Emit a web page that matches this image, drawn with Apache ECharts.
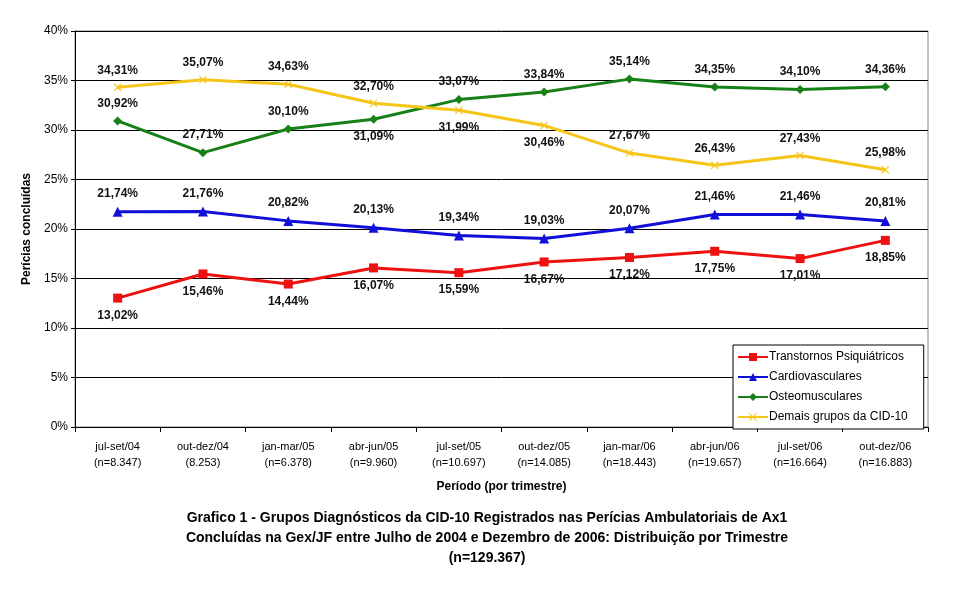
<!DOCTYPE html>
<html>
<head>
<meta charset="utf-8">
<script src="https://cdn.jsdelivr.net/npm/echarts@6/dist/echarts.min.js"></script>
<style>
  html, body { margin: 0; padding: 0; background: #fff; }
  #chart { width: 970px; height: 603px; }
</style>
</head>
<body>
<div id="chart"></div>
<script>
// categorias (trimestres)
var periodos = ['jul-set/04', 'out-dez/04', 'jan-mar/05', 'abr-jun/05', 'jul-set/05',
                'out-dez/05', 'jan-mar/06', 'abr-jun/06', 'jul-set/06', 'out-dez/06'];
var amostras = ['(n=8.347)', '(8.253)', '(n=6.378)', '(n=9.960)', '(n=10.697)',
                '(n=14.085)', '(n=18.443)', '(n=19.657)', '(n=16.664)', '(n=16.883)'];

// valores (%)
var psiquiatricos = [13.02, 15.46, 14.44, 16.07, 15.59, 16.67, 17.12, 17.75, 17.01, 18.85];
var cardiovasculares = [21.74, 21.76, 20.82, 20.13, 19.34, 19.03, 20.07, 21.46, 21.46, 20.81];
var osteomusculares = [30.92, 27.71, 30.10, 31.09, 33.07, 33.84, 35.14, 34.35, 34.10, 34.36];
var demais = [34.31, 35.07, 34.63, 32.70, 31.99, 30.46, 27.67, 26.43, 27.43, 25.98];

var yTicks = [0, 5, 10, 15, 20, 25, 30, 35, 40];

// lado do rotulo (1 = acima, 0 = abaixo)
var ladoOsteo = [1, 1, 1, 0, 1, 1, 1, 1, 1, 1];
var ladoDemais = [1, 1, 1, 1, 0, 0, 1, 1, 1, 1];

function fmt(v) {
    return v.toFixed(2).replace('.', ',') + '%';
}

function pontos(valores, lados) {
    var out = [];
    for (var i = 0; i < valores.length; i++) {
        var item = {value: valores[i]};
        if (lados) {
            item.label = {position: lados[i] ? 'top' : 'bottom'};
        }
        out.push(item);
    }
    return out;
}

var categorias = [];
for (var i = 0; i < periodos.length; i++) {
    categorias.push(periodos[i] + '\n' + amostras[i]);
}

var fonte = 'Liberation Sans, Arial, sans-serif';
var xMarker = 'path://M0,1L1,0L5,4L9,0L10,1L6,5L10,9L9,10L5,6L1,10L0,9L4,5Z';

function serie(nome, dados, cor, simbolo, tam, pos) {
    return {
        name: nome,
        type: 'line',
        data: dados,
        symbol: simbolo,
        symbolSize: tam,
        showAllSymbol: true,
        lineStyle: {color: cor, width: 3},
        itemStyle: {color: cor},
        label: {
            show: true,
            position: pos,
            distance: 7,
            formatter: function (p) { return fmt(p.value); },
            fontFamily: fonte,
            fontWeight: 'bold',
            fontSize: 12,
            color: '#111'
        },
        emphasis: {disabled: true},
        animation: false
    };
}

var myChart = echarts.init(document.getElementById('chart'));
var option = {
    backgroundColor: '#fff',
    textStyle: {fontFamily: fonte},
    title: [{
        text: 'Grafico 1 - Grupos Diagnósticos da CID-10 Registrados nas Perícias Ambulatoriais de Ax1\nConcluídas na Gex/JF entre Julho de 2004 e Dezembro de 2006: Distribuição por Trimestre\n(n=129.367)',
        left: 482,
        top: 503,
        textAlign: 'center',
        textStyle: {fontFamily: fonte, fontSize: 14, fontWeight: 'bold', color: '#000', lineHeight: 20}
    }],
    legend: {
        orient: 'vertical',
        left: 733,
        top: 345,
        padding: [6, 16, 6, 4],
        itemGap: 8,
        itemWidth: 30,
        itemHeight: 10,
        borderColor: '#000',
        borderWidth: 1,
        backgroundColor: '#fff',
        textStyle: {fontFamily: fonte, fontSize: 12, color: '#000', padding: [0, 0, 0, -4]},
        data: ['Transtornos Psiquiátricos', 'Cardiovasculares', 'Osteomusculares', 'Demais grupos da CID-10']
    },
    grid: {left: 75, right: 42, top: 31, bottom: 176, show: true, borderColor: '#888', borderWidth: 1},
    xAxis: {
        type: 'category',
        data: categorias,
        boundaryGap: true,
        name: 'Período (por trimestre)',
        nameLocation: 'middle',
        nameGap: 54,
        nameTextStyle: {fontFamily: fonte, fontSize: 12, fontWeight: 'bold', color: '#000'},
        axisLine: {lineStyle: {color: '#000', width: 1}},
        axisTick: {show: true, length: 5, lineStyle: {color: '#000'}},
        axisLabel: {fontFamily: fonte, fontSize: 11, color: '#000', lineHeight: 16, margin: 12, interval: 0},
        splitLine: {show: false}
    },
    yAxis: {
        type: 'value',
        min: yTicks[0],
        max: yTicks[yTicks.length - 1],
        interval: 5,
        name: 'Perícias concluídas',
        nameLocation: 'middle',
        nameGap: 40,
        nameRotate: 90,
        nameTextStyle: {fontFamily: fonte, fontSize: 12, fontWeight: 'bold', color: '#000'},
        axisLine: {show: true, lineStyle: {color: '#000', width: 1}},
        axisTick: {show: true, length: 4, lineStyle: {color: '#000'}},
        axisLabel: {fontFamily: fonte, fontSize: 12, color: '#000', margin: 7, formatter: '{value}%'},
        splitLine: {show: true, lineStyle: {color: '#000', width: 1}}
    },
    series: [
        serie('Transtornos Psiquiátricos', pontos(psiquiatricos), '#ee1111', 'rect', 9, 'bottom'),
        serie('Cardiovasculares', pontos(cardiovasculares), '#1010d8', 'triangle', 10, 'top'),
        serie('Osteomusculares', pontos(osteomusculares, ladoOsteo), '#178017', 'diamond', 9, 'top'),
        serie('Demais grupos da CID-10', pontos(demais, ladoDemais), '#f5c518', xMarker, 8, 'top')
    ]
};

myChart.setOption(option);
</script>
</body>
</html>
